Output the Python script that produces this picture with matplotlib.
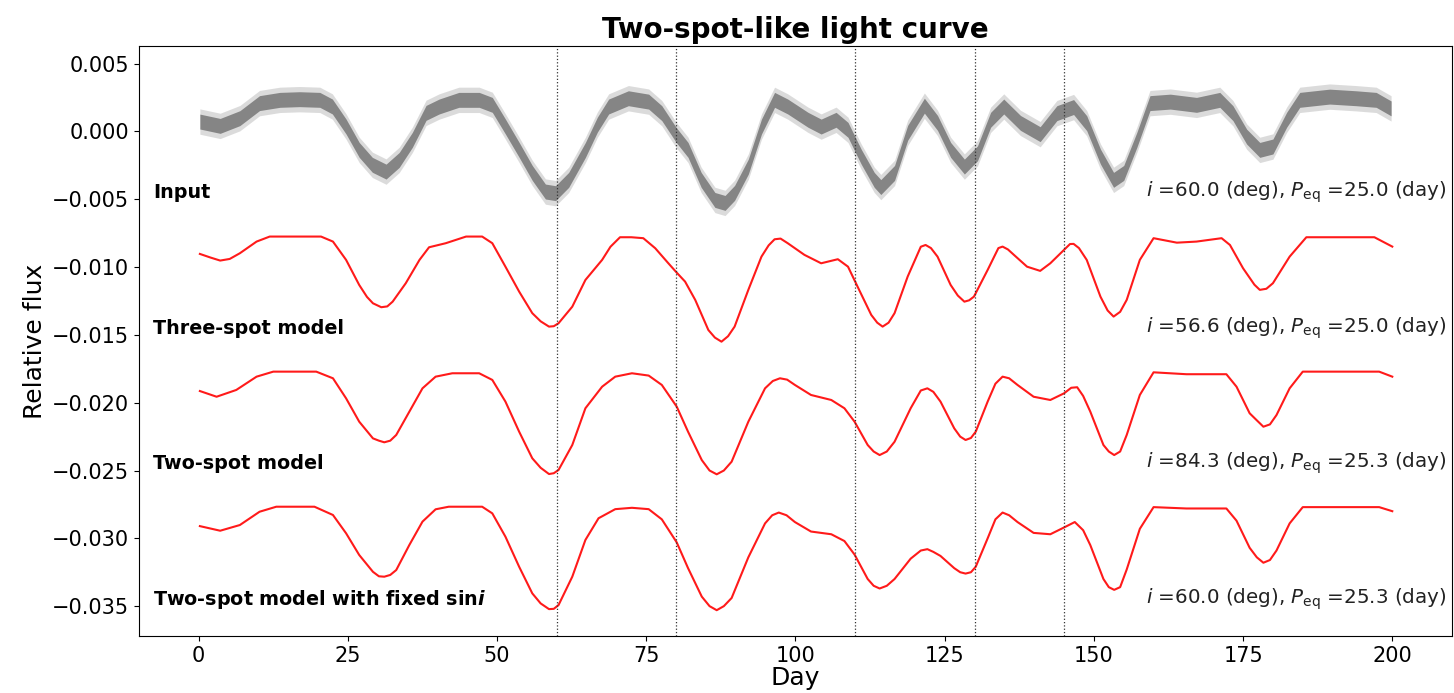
import matplotlib
matplotlib.use("Agg")
import matplotlib.pyplot as plt
import numpy as np

# ---------------- data ----------------
input_day = [0.2, 3.6, 6.9, 10.2, 13.6, 16.9, 20.3, 22.4, 24.7, 26.9, 29.1, 31.4, 33.6, 35.8,
             38.1, 40.3, 43.6, 47.0, 49.2, 51.4, 53.7, 55.9, 58.1, 59.8, 62.0, 64.8, 66.8, 68.7,
             72.0, 75.4, 77.6, 80.0, 82.0, 84.2, 86.5, 88.2, 89.8, 92.1, 94.3, 96.5, 98.7, 102.1,
             104.3, 106.8, 108.8, 111.0, 113.2, 114.3, 116.6, 118.8, 121.6, 123.8, 126.0, 128.3,
             130.5, 132.7, 134.9, 137.7, 141.0, 143.8, 146.6, 148.8, 151.1, 153.3, 155.0, 157.2,
             159.4, 162.8, 167.2, 171.1, 173.3, 175.6, 177.8, 180.0, 182.3, 184.5, 189.5, 193.9,
             197.3, 199.8]
input_flux = [0.00073, 0.00041, 0.00098, 0.00209, 0.00233, 0.00238, 0.00233, 0.00184, 0.00036,
              -0.00136, -0.00246, -0.00296, -0.0021, -0.00062, 0.00137, 0.00184, 0.00233, 0.00233,
              0.00196, 0.00036, -0.00136, -0.00306, -0.00443, -0.00455, -0.00357, -0.00136, 0.0005,
              0.00184, 0.00245, 0.0022, 0.00135, -0.00025, -0.00136, -0.00357, -0.00505, -0.00527,
              -0.00453, -0.00259, 0.00036, 0.00233, 0.00184, 0.00086, 0.00036, 0.00086, 0.00012,
              -0.00185, -0.00357, -0.0041, -0.00306, -0.0001, 0.0019, 0.00063, -0.00136, -0.00259,
              -0.00161, 0.00086, 0.00184, 0.00063, -0.0002, 0.00135, 0.0018, 0.00061, -0.00185,
              -0.00357, -0.00306, -0.00062, 0.00209, 0.0022, 0.00196, 0.00233, 0.00135, -0.00038,
              -0.00136, -0.00111, 0.00086, 0.00233, 0.00257, 0.00245, 0.00233, 0.0017]
input_noise = 0.00055

three_day = [0.2, 2.0, 3.6, 5.2, 6.9, 9.7, 11.9, 20.5, 22.5, 24.7, 26.9, 28.2, 29.2, 30.6, 31.6,
             32.5, 34.7, 37.0, 38.6, 41.4, 44.8, 47.5, 49.2, 51.4, 53.7, 55.9, 57.3, 58.7, 59.5,
             60.3, 62.6, 64.8, 67.6, 69.0, 70.6, 72.5, 74.5, 76.5, 78.7, 80.1, 81.5, 83.2, 85.4,
             86.5, 87.6, 88.7, 89.8, 92.1, 94.3, 95.5, 96.5, 97.5, 98.7, 101.5, 104.3, 107.1,
             108.8, 110.4, 112.7, 113.7, 114.6, 115.6, 116.6, 118.8, 121.0, 121.8, 122.7, 123.8,
             126.0, 127.2, 128.3, 129.1, 129.9, 132.2, 134.0, 134.7, 135.6, 136.6, 138.8, 141.0,
             142.7, 145.0, 146.0, 146.6, 147.5, 148.8, 151.1, 152.3, 153.3, 154.4, 155.5, 157.7,
             160.0, 163.9, 167.2, 171.4, 172.8, 175.0, 176.9, 177.8, 178.9, 180.0, 182.8, 185.6,
             197.0, 200.0]
three_flux = [-0.00903, -0.0093, -0.00952, -0.0094, -0.00898, -0.00812, -0.00775, -0.00775,
              -0.00812, -0.00947, -0.01132, -0.0122, -0.01267, -0.01296, -0.0129, -0.01255,
              -0.01119, -0.00947, -0.00854, -0.00824, -0.00775, -0.00775, -0.00824, -0.00997,
              -0.01181, -0.0134, -0.0140, -0.01439, -0.01436, -0.01414, -0.01292, -0.01095,
              -0.00947, -0.0085, -0.0078, -0.0078, -0.00787, -0.00861, -0.00972, -0.01041,
              -0.01107, -0.01242, -0.01464, -0.0152, -0.0155, -0.0151, -0.01439, -0.01168,
              -0.00923, -0.0084, -0.00795, -0.0079, -0.00824, -0.0091, -0.00972, -0.00942,
              -0.00997, -0.01144, -0.01353, -0.0141, -0.01439, -0.0141, -0.0134, -0.0107,
              -0.0085, -0.00837, -0.0086, -0.00923, -0.01132, -0.0121, -0.01255, -0.01245,
              -0.01218, -0.01021, -0.0086, -0.00849, -0.0087, -0.0091, -0.00997, -0.01028,
              -0.00972, -0.00873, -0.0083, -0.00829, -0.0086, -0.00947, -0.01218, -0.0132,
              -0.01365, -0.0133, -0.01242, -0.00947, -0.00787, -0.0082, -0.00812, -0.00787,
              -0.00837, -0.01009, -0.0113, -0.01168, -0.0116, -0.01119, -0.00923, -0.0078,
              -0.0078, -0.00849]

two_day = [0.2, 3.0, 6.3, 9.7, 12.5, 19.7, 22.5, 24.7, 26.9, 29.2, 30.2, 31.1, 32.1, 33.1, 35.3,
           37.5, 39.7, 42.5, 47.0, 49.2, 51.4, 53.7, 55.9, 57.3, 58.7, 59.5, 60.3, 62.6, 64.8,
           67.6, 69.8, 72.6, 75.4, 77.6, 80.1, 82.0, 84.3, 85.6, 86.8, 88.0, 89.3, 92.1, 94.9,
           96.2, 97.4, 98.6, 99.9, 102.6, 106.0, 108.2, 109.9, 112.1, 113.1, 114.1, 115.3, 116.6,
           119.3, 121.0, 122.1, 123.1, 124.3, 126.6, 127.6, 128.5, 129.4, 130.2, 132.2, 133.5,
           134.7, 135.8, 137.2, 139.9, 142.7, 145.0, 146.2, 147.2, 148.2, 149.4, 151.6, 152.5,
           153.4, 154.4, 155.5, 157.7, 160.0, 165.5, 172.2, 173.9, 176.1, 177.3, 178.4, 179.5,
           180.6, 182.8, 185.0, 197.8, 200.0]
two_flux = [-0.01914, -0.01956, -0.01906, -0.01808, -0.01771, -0.01771, -0.0182, -0.01968,
            -0.0214, -0.02263, -0.0228, -0.02292, -0.0228, -0.02238, -0.02066, -0.01894,
            -0.01808, -0.01783, -0.01783, -0.01832, -0.01992, -0.02214, -0.0241, -0.0248,
            -0.02526, -0.0252, -0.02496, -0.02312, -0.02041, -0.01882, -0.01808, -0.01783,
            -0.018, -0.01869, -0.02029, -0.02214, -0.02423, -0.0250, -0.02528, -0.0250,
            -0.02435, -0.0214, -0.01894, -0.0184, -0.0182, -0.0183, -0.01869, -0.01943,
            -0.0198, -0.02041, -0.0214, -0.02312, -0.0236, -0.02386, -0.0236, -0.02288,
            -0.02041, -0.0191, -0.01894, -0.0192, -0.01992, -0.02189, -0.0225, -0.02275,
            -0.0226, -0.02214, -0.01992, -0.0186, -0.01808, -0.0182, -0.01869, -0.01956,
            -0.0198, -0.01931, -0.0189, -0.01886, -0.0195, -0.02066, -0.02312, -0.0236,
            -0.02386, -0.0236, -0.02238, -0.01943, -0.01776, -0.0179, -0.0179, -0.01882,
            -0.02078, -0.0213, -0.02177, -0.0216, -0.02091, -0.01894, -0.01771, -0.01771,
            -0.01808]

fixed_day = [0.2, 3.6, 6.9, 10.2, 13.0, 19.4, 22.5, 24.7, 26.9, 29.2, 30.2, 31.1, 32.1, 33.1,
             35.3, 37.5, 39.7, 41.9, 47.5, 49.2, 51.4, 53.7, 55.9, 57.3, 58.7, 59.5, 60.3, 62.6,
             64.8, 67.0, 69.8, 72.6, 75.4, 77.6, 80.1, 82.0, 84.3, 85.6, 86.8, 88.0, 89.3, 92.1,
             94.9, 96.1, 97.2, 98.5, 99.9, 102.6, 106.0, 108.2, 109.9, 112.1, 113.1, 114.1, 115.3,
             116.6, 119.3, 121.0, 122.1, 123.1, 124.3, 126.6, 127.6, 128.5, 129.4, 130.2, 132.2,
             133.5, 134.7, 135.8, 137.2, 139.9, 142.7, 145.0, 146.8, 148.2, 149.4, 151.6, 152.5,
             153.4, 154.4, 155.5, 157.7, 160.0, 165.5, 172.2, 173.9, 176.1, 177.3, 178.4, 179.5,
             180.6, 182.8, 185.0, 197.8, 200.0]
fixed_flux = [-0.0291, -0.02944, -0.02902, -0.02804, -0.02767, -0.02767, -0.02828, -0.02963,
              -0.03123, -0.03247, -0.0328, -0.03283, -0.0327, -0.03234, -0.03049, -0.02877,
              -0.02786, -0.02767, -0.02767, -0.02816, -0.02988, -0.0321, -0.03406, -0.0348,
              -0.03522, -0.0352, -0.03492, -0.03283, -0.03012, -0.02852, -0.02785, -0.02775,
              -0.02785, -0.0286, -0.0303, -0.0322, -0.0343, -0.0350, -0.0353, -0.0350, -0.0344,
              -0.0314, -0.0289, -0.0283, -0.0281, -0.0283, -0.0288, -0.0295, -0.0297, -0.0302,
              -0.0312, -0.0330, -0.0335, -0.0337, -0.0335, -0.0330, -0.0315, -0.0309, -0.0308,
              -0.0310, -0.0313, -0.0322, -0.0325, -0.0326, -0.0325, -0.0321, -0.0300, -0.0286,
              -0.0281, -0.0283, -0.0288, -0.0296, -0.0297, -0.0292, -0.0288, -0.0294, -0.0305,
              -0.0330, -0.0336, -0.0338, -0.0336, -0.0323, -0.0293, -0.0277, -0.0278, -0.0278,
              -0.0287, -0.0307, -0.0314, -0.0318, -0.0316, -0.0309, -0.0289, -0.0277, -0.0277,
              -0.0280]

vlines_day = [60, 80, 110, 130, 145]

row_labels = ["Input", "Three-spot model", "Two-spot model",
              "Two-spot model with fixed sin$\\boldsymbol{i}$"]
row_label_y = [-0.0045, -0.0145, -0.0245, -0.0345]
row_params = [r"$i$ =60.0 (deg), $P_{\rm eq}$ =25.0 (day)",
              r"$i$ =56.6 (deg), $P_{\rm eq}$ =25.0 (day)",
              r"$i$ =84.3 (deg), $P_{\rm eq}$ =25.3 (day)",
              r"$i$ =60.0 (deg), $P_{\rm eq}$ =25.3 (day)"]

xticks = [0, 25, 50, 75, 100, 125, 150, 175, 200]
yticks = [0.005, 0.0, -0.005, -0.010, -0.015, -0.020, -0.025, -0.030, -0.035]

# ---------------- plot ----------------
plt.rcParams['font.family'] = ['DejaVu Sans']
plt.rcParams['mathtext.fontset'] = 'dejavusans'

fig = plt.figure(figsize=(14.54, 6.93), dpi=100)
ax = fig.add_axes([0.0956, 0.0823, 0.9030, 0.8513])

idx = np.array(input_day)
ifl = np.array(input_flux)
ax.fill_between(idx, ifl - input_noise * 1.7, ifl + input_noise * 1.7, color='#8a8a8a',
                alpha=0.3, lw=0)
ax.fill_between(idx, ifl - input_noise, ifl + input_noise, color='#858585', lw=0)

for d, f in [(three_day, three_flux), (two_day, two_flux), (fixed_day, fixed_flux)]:
    ax.plot(d, f, color='#ff1a1a', lw=1.5, solid_joinstyle='round')

for v in vlines_day:
    ax.axvline(v, color='#333333', ls=':', lw=0.9)

for lab, yl, par in zip(row_labels, row_label_y, row_params):
    ax.text(-7.6, yl, lab, fontsize=13.8, fontweight='bold', ha='left', va='center')
    ax.text(209.0, yl, par, fontsize=14.3, ha='right', va='center', color='#222222')

ax.set_xlim(-10, 210)
ax.set_ylim(-0.0372, 0.0063)
ax.set_xticks(xticks)
ax.set_yticks(yticks)
ax.set_yticklabels([f"{t:.3f}".replace('-', '\u2212') for t in yticks])
ax.tick_params(labelsize=15)
ax.set_xlabel("Day", fontsize=18, labelpad=0)
ax.set_ylabel("Relative flux", fontsize=18)
ax.set_title("Two-spot-like light curve", fontsize=20, fontweight='bold', pad=6)

fig.savefig("out.png", dpi=100)
